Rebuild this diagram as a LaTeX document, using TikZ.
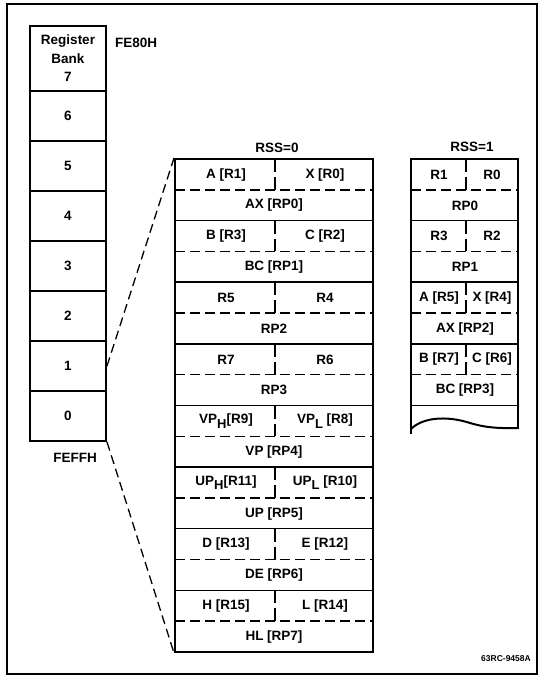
\documentclass[tikz,border=0pt]{standalone}
\usepackage{fontspec}
\setmainfont{Liberation Sans}
\newcommand\lowsub[1]{\raisebox{-4.5pt}{\fontsize{13}{13}\selectfont #1}}
\begin{document}
\begin{tikzpicture}[x=1pt,y=-1pt,
  font=\fontsize{13.5}{18.5}\selectfont\bfseries,
  bankbox/.style={draw, line width=2pt, inner sep=0pt, minimum width=76pt, minimum height=50pt, align=center},
  colbox/.style={draw, line width=2pt, inner sep=0pt},
  inner/.style={line width=1.5pt},
  halfdash/.style={line width=1.4pt, dash pattern=on 10pt off 5pt},
  vdash/.style={line width=1.4pt, dash pattern=on 13pt off 5pt},
  link/.style={line width=1.3pt, dash pattern=on 9pt off 5pt},
  txt/.style={inner sep=0pt}
]
\useasboundingbox (0,0) rectangle (538,677);
% outer frame
\draw[line width=1.6pt] (7,4) rectangle (537,674);

% register banks
\node[bankbox, minimum height=65pt] (bank7) at (68,58.5) {Register\\Bank\\7};
\foreach \k/\y in {6/116,5/166,4/216,3/266,2/316,1/366,0/416}
  \node[bankbox] (bank\k) at (68,\y) {\k};
\node[txt, anchor=west] (fe80) at (115,43) {FE80H};
\node[txt] (feff) at (75,458) {FEFFH};

% RSS=0 column
\node[colbox, minimum width=198pt, minimum height=493pt] (rss0) at (274,405.5) {};
\node[txt, anchor=base] (rss0lbl) at (277,152) {RSS=0};
\foreach \i/\l/\r/\p in {
  0/{A [R1]}/{X [R0]}/{AX [RP0]},
  1/{B [R3]}/{C [R2]}/{BC [RP1]},
  2/{R5}/{R4}/{RP2},
  3/{R7}/{R6}/{RP3},
  4/{VP\lowsub{H}[R9]}/{VP\lowsub{L} [R8]}/{VP [RP4]},
  5/{UP\lowsub{H}[R11]}/{UP\lowsub{L} [R10]}/{UP [RP5]},
  6/{D [R13]}/{E [R12]}/{DE [RP6]},
  7/{H [R15]}/{L [R14]}/{HL [RP7]}}{
  \pgfmathsetmacro\top{159+61.625*\i}
  \draw[vdash] (275,\top) -- (275,\top+30.8);
  \draw[halfdash] (175,\top+30.8) -- (373,\top+30.8);
  \ifnum\i<7 \draw[inner] (175,\top+61.6) -- (373,\top+61.6); \fi
  \node[txt] (z\i l) at (226,\top+15.6) {\l};
  \node[txt] (z\i r) at (325,\top+15.6) {\r};
  \node[txt] (z\i p) at (274,\top+46.4) {\p};
}

% RSS=1 column
\coordinate (r1nw) at (411,159);
\coordinate (r1ne) at (518,159);
\draw[line width=2pt] (411,434) -- (r1nw) -- (r1ne) -- (518,429);
\draw[line width=2pt] (411,429) .. controls (422,418) and (445,415) .. (470,423)
   .. controls (490,429) and (505,428) .. (518,428);
\node[txt, anchor=base] (rss1lbl) at (472,151) {RSS=1};
\foreach \i/\l/\r/\p in {
  0/{R1}/{R0}/{RP0},
  1/{R3}/{R2}/{RP1},
  2/{A [R5]}/{X [R4]}/{AX [RP2]},
  3/{B [R7]}/{C [R6]}/{BC [RP3]}}{
  \pgfmathsetmacro\top{159+61.6*\i}
  \draw[vdash] (466,\top) -- (466,\top+30.8);
  \draw[halfdash] (411,\top+30.8) -- (518,\top+30.8);
  \draw[inner] (411,\top+61.6) -- (518,\top+61.6);
  \node[txt] (o\i l) at (439,\top+15.6) {\l};
  \node[txt] (o\i r) at (492,\top+15.6) {\r};
  \node[txt] (o\i p) at (465,\top+46.4) {\p};
}

% expansion lines
\draw[link] (bank1.east) -- (rss0.north west);
\draw[link] (bank0.south east) -- (rss0.south west);

% figure code
\node[txt, anchor=base east, font=\fontsize{8.5}{10}\selectfont\bfseries] (code) at (531,661) {63RC-9458A};
\end{tikzpicture}
\end{document}
